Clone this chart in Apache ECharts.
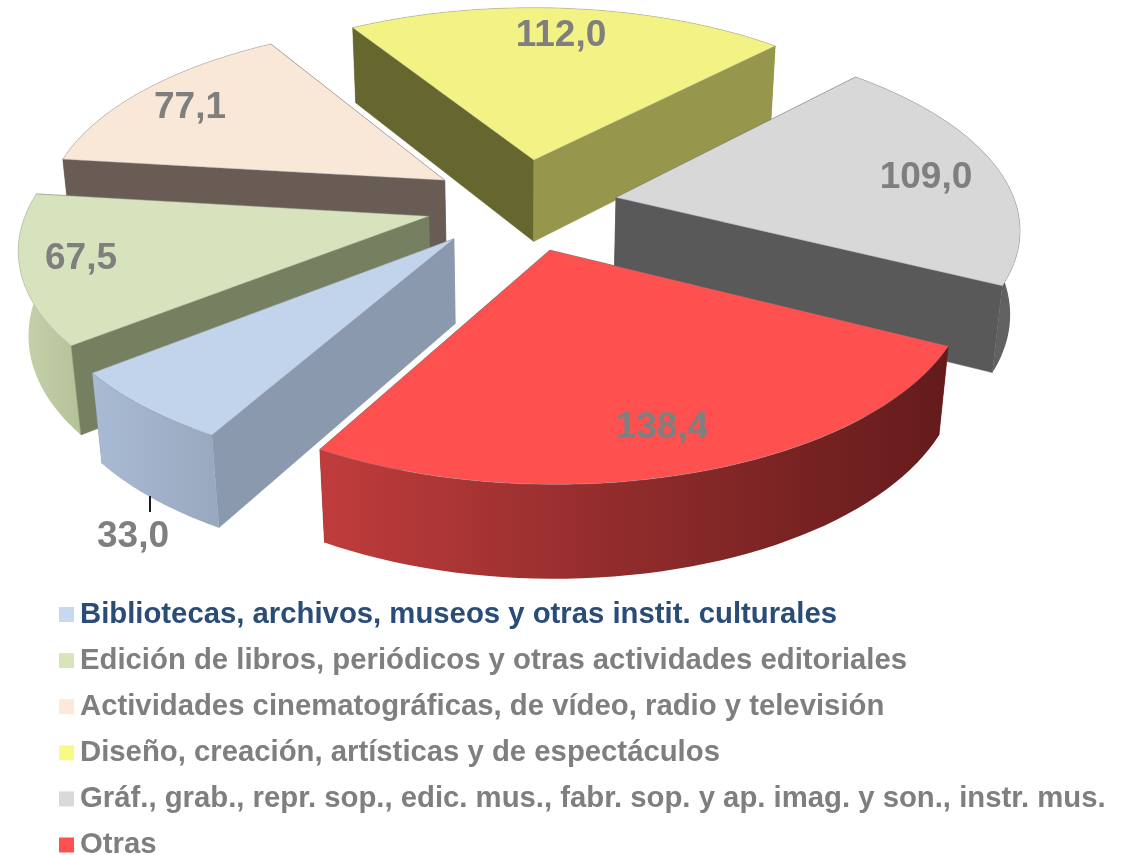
<!DOCTYPE html>
<html><head><meta charset="utf-8">
<style>html,body{margin:0;padding:0;background:#fff}#c{width:1125px;height:855px}</style>
<script src="https://cdn.jsdelivr.net/npm/echarts@6/dist/echarts.min.js"></script>
</head><body><div id="c"></div>
<script>
const categories=["Bibliotecas, archivos, museos y otras instit. culturales","Edición de libros, periódicos y otras actividades editoriales","Actividades cinematográficas, de vídeo, radio y televisión","Diseño, creación, artísticas y de espectáculos","Gráf., grab., repr. sop., edic. mus., fabr. sop. y ap. imag. y son., instr. mus.","Otras"];
const values=[33.0,67.5,77.1,112.0,109.0,138.4];
const topColors=["#C1D4EC","#D7E3BC","#F9E7D8","#F3F285","#D8D8D8","#FF5050"];
const legendColors=["#C6D9F1","#D8E4BC","#FDE9D9","#F9F985","#D9D9D9","#FF5050"];
const startFace=["#8A99AD","#758060","#695C54","#66672F","#5A5A5A","#6E1E1E"];
const endFace=["#8A99AD","#758060","#695C54","#96964C","#595959","#6E1E1E"];
const rimStops=[["#A9BAD4","#98A8BE"],["#C6D2AC","#B5C298"],["#8A7E74","#8A7E74"],["#96964C","#96964C"],["#5A5A5A","#626262"],["#C03C3C","#8F2B2B","#641B1B"]];
const legendTextColors=["#2A4D78","#7F7F7F","#7F7F7F","#7F7F7F","#7F7F7F","#7F7F7F"];
const labelSpots=[[133,537],[81,259],[190,108],[561,36],[926,178],[662,428]];
const sliceNudge=[[-5,-1],[-1,-1],[1,-1],[1,-2],[-1,0],[-2,1]];
const startAngle=209.5;
const V={cx:523,cy:205,R:400,Rb:186,k:0.145,m:0.02,H:85,e:0.24};
const total=values.reduce((a,b)=>a+b,0);
const rad=d=>d*Math.PI/180;
function proj(u,v,z){const w=1+V.k*v+V.m*z;return [V.cx+V.R*u/w,V.cy-V.Rb*v/w+V.H*z/w];}
function sliceAngles(i){let s=startAngle;for(let j=0;j<i;j++)s+=values[j]/total*360;return [s,s+values[i]/total*360];}
function makeRender(i){
 return function(params,api){
  const val=api.value(0);
  const a0=sliceAngles(i)[0],a1=a0+val/total*360,mid=(a0+a1)/2;
  const ox=V.e*Math.sin(rad(mid)),oy=V.e*Math.cos(rad(mid));
  const pt=(r,a)=>[ox+r*Math.sin(rad(a)),oy+r*Math.cos(rad(a))];
  const arc=[];const N=48;for(let n=0;n<=N;n++)arc.push(pt(1,a0+(a1-a0)*n/N));
  const nudge=sliceNudge[i];
  const toS=(l,z)=>l.map(p=>{const q=proj(p[0],p[1],z);return [q[0]+nudge[0],q[1]+nudge[1]];});
  const A=[ox,oy],S=arc[0],E=arc[N];
  const poly=(pts,fill,stroke,sw)=>({type:'polygon',shape:{points:pts},style:{fill:fill,stroke:stroke||fill,lineWidth:sw===undefined?0.5:sw}});
  const stops=rimStops[i];
  const rimFill=new echarts.graphic.LinearGradient(0,0,1,0,stops.map((c,k)=>({offset:k/(stops.length-1),color:c})));
  const faces=[
   {d:(A[1]+S[1])/2,el:poly(toS([A,S],0).concat(toS([S,A],1)),startFace[i])},
   {d:(A[1]+E[1])/2,el:poly(toS([A,E],0).concat(toS([E,A],1)),endFace[i])},
   {d:arc[N>>1][1],el:{type:'polygon',shape:{points:toS(arc,0).concat(toS(arc.slice().reverse(),1))},style:{fill:rimFill}}}
  ].sort((a,b)=>b.d-a.d).map(f=>f.el);
  const topPts=toS([A].concat(arc),0);
  faces.push(poly(topPts,topColors[i],'rgba(150,150,150,0.4)',1));
  const txt=val.toFixed(1).replace('.',',');
  faces.push({type:'text',z2:50,style:{text:txt,x:labelSpots[i][0],y:labelSpots[i][1],align:'center',verticalAlign:'middle',font:'bold 37px "Liberation Sans", Arial, sans-serif',fill:'#7F7F7F'}});
  if(i===0) faces.push({type:'line',z2:50,shape:{x1:150,y1:496,x2:150,y2:512},style:{stroke:'#1a1a1a',lineWidth:2}});
  return {type:'group',children:faces};
 };
}
function depthRank(i){const a=sliceAngles(i);const c=Math.cos(rad((a[0]+a[1])/2));return 2+Math.round((1-c)*10);}
const series=categories.map((name,i)=>({type:'custom',name:name,coordinateSystem:'none',z:depthRank(i),silent:true,
 renderItem:makeRender(i),data:[[values[i]]],itemStyle:{color:legendColors[i]}}));
const chart=echarts.init(document.getElementById('c'),null,{renderer:'canvas'});
chart.setOption({animation:false,backgroundColor:'#fff',
 legend:{orient:'vertical',left:54,top:595,height:330,itemWidth:15,itemHeight:15,itemGap:17.1,icon:'rect',selectedMode:false,
  textStyle:{fontFamily:'"Liberation Sans", Arial, sans-serif',fontWeight:'bold',fontSize:29.3,color:'#7F7F7F',padding:[0,0,0,1]},
  data:categories.map((n,i)=>({name:n,itemStyle:{color:legendColors[i]},textStyle:{color:legendTextColors[i]}}))},
 series:series});
</script></body></html>
